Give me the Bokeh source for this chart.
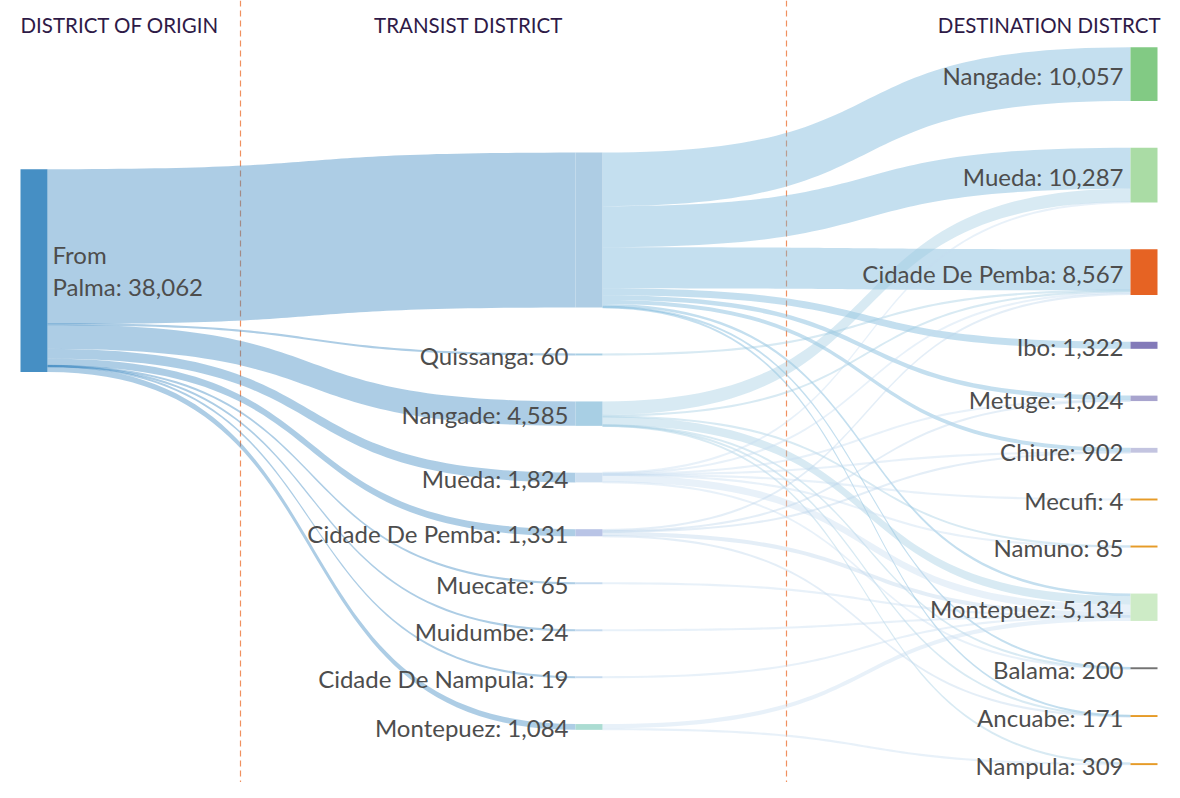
import numpy as np
from bokeh.plotting import figure
from bokeh.models import ColumnDataSource, Range1d, Span
from bokeh.core.properties import value
from bokeh.embed import file_html
from bokeh.resources import INLINE

# ---------------- data ----------------
origin_names = ["Palma"]
transit_names = ["Palma (direct)", "Quissanga", "Nangade", "Mueda", "Cidade De Pemba",
                 "Muecate", "Muidumbe", "Cidade De Nampula", "Montepuez"]
transit_show_label = [False, True, True, True, True, True, True, True, True]
dest_names = ["Nangade", "Mueda", "Cidade De Pemba", "Ibo", "Metuge", "Chiure", "Mecufi",
              "Namuno", "Montepuez", "Balama", "Ancuabe", "Nampula"]

# origin -> transit
ot_values = [29070, 60, 4585, 1824, 1331, 65, 24, 19, 1084]

# transit -> destination
td_source = ["Palma (direct)"] * 9 + ["Quissanga"] + ["Nangade"] * 7 + ["Mueda"] * 8 + \
            ["Cidade De Pemba"] * 5 + ["Muecate", "Muidumbe", "Cidade De Nampula"] + ["Montepuez"] * 2
td_target = ["Nangade", "Mueda", "Cidade De Pemba", "Ibo", "Metuge", "Chiure", "Montepuez", "Balama", "Ancuabe",
             "Cidade De Pemba",
             "Mueda", "Cidade De Pemba", "Namuno", "Montepuez", "Balama", "Ancuabe", "Nampula",
             "Mueda", "Cidade De Pemba", "Metuge", "Chiure", "Mecufi", "Namuno", "Montepuez", "Balama",
             "Cidade De Pemba", "Metuge", "Chiure", "Montepuez", "Ancuabe",
             "Montepuez", "Montepuez", "Montepuez",
             "Montepuez", "Nampula"]
td_value = [10057, 7700, 7711, 1322, 850, 750, 500, 100, 80,
            60,
            2500, 300, 50, 1600, 60, 45, 30,
            87, 150, 74, 80, 4, 35, 1354, 40,
            346, 100, 72, 767, 46,
            65, 24, 19,
            805, 279]

headers = ["DISTRICT OF ORIGIN", "TRANSIST DISTRICT", "DESTINATION DISTRCT"]

# colours
origin_colors = ["#3182bd"]
transit_colors = ["#6baed6", "#9ecae1", "#9ecae1", "#c6dbef", "#bcd4ec", "#c6dbef", "#c6dbef", "#c6dbef", "#c6dbef"]
transit_node_fill = ["#aecde4", "#a8cfe4", "#a8cfe4", "#cddff0", "#b9c4e6", "#c6dbef", "#c6dbef", "#c6dbef", "#abdcd2"]
dest_colors = ["#82ca84", "#aadca5", "#e66323", "#837ab9", "#a8a4ce", "#c3c4e0", "#e69b28", "#e69b28",
               "#cdebc6", "#737373", "#e69b28", "#e69b28"]

# ---------------- layout ----------------
col_x = [20, 575, 1130]
node_w = 27
pad = 48
area_top, area_bottom = 52, 788
col_top = [177, 160, 52]
min_h = 2.0
min_link = 2.2
curve = 0.6

origin_vals = [sum(ot_values)]
transit_vals = list(ot_values)
dest_vals = [sum(v for t, v in zip(td_target, td_value) if t == d) for d in dest_names]

cols_vals = [origin_vals, transit_vals, dest_vals]
factor = min((area_bottom - area_top - (len(c) - 1) * pad) / sum(c) for c in cols_vals)


def place(vals, top):
    out = []
    y = top
    for v in vals:
        h = v * factor
        out.append([y, y + h])
        y += h + pad
    return out


pos = [place(c, t) for c, t in zip(cols_vals, col_top)]


def bez_band(x0, y0, x1, y1, w, n=60):
    t = np.linspace(0, 1, n)
    c = (x1 - x0) * curve
    X = (1 - t) ** 3 * x0 + 3 * (1 - t) ** 2 * t * (x0 + c) + 3 * (1 - t) * t ** 2 * (x1 - c) + t ** 3 * x1
    Yf = 3 * (1 - t) * t ** 2 + t ** 3
    top = y0 + (y1 - y0) * Yf
    ww = max(w, min_link)
    off = (ww - w) / 2.0
    xs = np.concatenate([X, X[::-1]])
    ys = np.concatenate([top - off, (top + w + off)[::-1]])
    return list(xs), list(ys)


link_xs, link_ys, link_col = [], [], []

# origin -> transit
o_off = pos[0][0][0]
t_in = [p[0] for p in pos[1]]
for i, v in enumerate(ot_values):
    w = v * factor
    xs, ys = bez_band(col_x[0] + node_w, o_off, col_x[1], t_in[i], w)
    link_xs.append(xs); link_ys.append(ys); link_col.append(origin_colors[0])
    o_off += w

# transit -> dest  (outgoing ordered by target, incoming ordered by source)
t_out = [p[0] for p in pos[1]]
d_in = [p[0] for p in pos[2]]
links = [(transit_names.index(s), dest_names.index(t), v) for s, t, v in zip(td_source, td_target, td_value)]
out_off = {}
for si in range(len(transit_names)):
    y = t_out[si]
    for (s, t, v) in sorted([l for l in links if l[0] == si], key=lambda l: l[1]):
        out_off[(s, t)] = y
        y += v * factor
in_off = {}
for ti in range(len(dest_names)):
    y = d_in[ti]
    for (s, t, v) in sorted([l for l in links if l[1] == ti], key=lambda l: l[0]):
        in_off[(s, t)] = y
        y += v * factor
td_xs, td_ys, td_col = [], [], []
for (s, t, v) in links:
    xs, ys = bez_band(col_x[1] + node_w, out_off[(s, t)], col_x[2], in_off[(s, t)], v * factor)
    td_xs.append(xs); td_ys.append(ys); td_col.append(transit_colors[s])

# ---------------- figure ----------------
W, H = 1164, 782
p = figure(width=W, height=H, output_backend="svg", toolbar_location=None,
           x_range=Range1d(0, W), y_range=Range1d(806, 4),
           x_axis_type=None, y_axis_type=None, min_border=0)
p.outline_line_color = None
p.xgrid.visible = False
p.ygrid.visible = False
p.background_fill_color = "white"

for xl in [240, 786]:
    p.add_layout(Span(location=xl, dimension="height", line_color="#f0905f", line_width=1.2,
                      line_dash="6 4", level="underlay"))

p.patches(link_xs, link_ys, fill_color=link_col, fill_alpha=0.4, line_color=None)
p.patches(td_xs, td_ys, fill_color=td_col, fill_alpha=0.4, line_color=None)


def node_rects(col, fills, xcol):
    xs, ys, hs = [], [], []
    for (a, b) in pos[col]:
        h = max(b - a, min_h)
        xs.append(xcol + node_w / 2)
        ys.append((a + b) / 2)
        hs.append(h)
    return dict(x=xs, y=ys, h=hs, c=fills)


for col, fills in [(0, ["#468fc4"]), (1, transit_node_fill), (2, dest_colors)]:
    src = ColumnDataSource(node_rects(col, fills, col_x[col]))
    p.rect(x="x", y="y", width=node_w, height="h", fill_color="c", line_color=None, source=src)

font = value("Lato")
lab_col = "#4d4d4d"
fs = "24px"

# origin label (two lines)
oy = sum(pos[0][0]) / 2
p.text(x=[col_x[0] + node_w + 5], y=[oy - 16], text=["From"], text_font=font, text_font_size=fs,
       text_color=lab_col, text_align="left", text_baseline="middle")
p.text(x=[col_x[0] + node_w + 5], y=[oy + 16], text=[f"{origin_names[0]}: {origin_vals[0]:,}"],
       text_font=font, text_font_size=fs, text_color=lab_col, text_align="left", text_baseline="middle")

tx, ty, tt = [], [], []
for i, n in enumerate(transit_names):
    if transit_show_label[i]:
        a, b = pos[1][i]
        tx.append(col_x[1] - 7); ty.append((a + b) / 2 + 1); tt.append(f"{n}: {transit_vals[i]:,}")
for i, n in enumerate(dest_names):
    a, b = pos[2][i]
    tx.append(col_x[2] - 7); ty.append((a + b) / 2 + 1); tt.append(f"{n}: {dest_vals[i]:,}")
p.text(x=tx, y=ty, text=tt, text_font=font, text_font_size=fs, text_color=lab_col,
       text_align="right", text_baseline="middle")

hc = "#2e1a47"
hfs = "20.5px"
p.text(x=[20], y=[29], text=[headers[0]], text_font=font, text_font_size=hfs, text_color=hc,
       text_align="left", text_baseline="middle")
p.text(x=[468], y=[29], text=[headers[1]], text_font=font, text_font_size=hfs, text_color=hc,
       text_align="center", text_baseline="middle")
p.text(x=[1160], y=[29], text=[headers[2]], text_font=font, text_font_size=hfs, text_color=hc,
       text_align="right", text_baseline="middle")

open("out.html", "w").write(file_html(p, INLINE))
